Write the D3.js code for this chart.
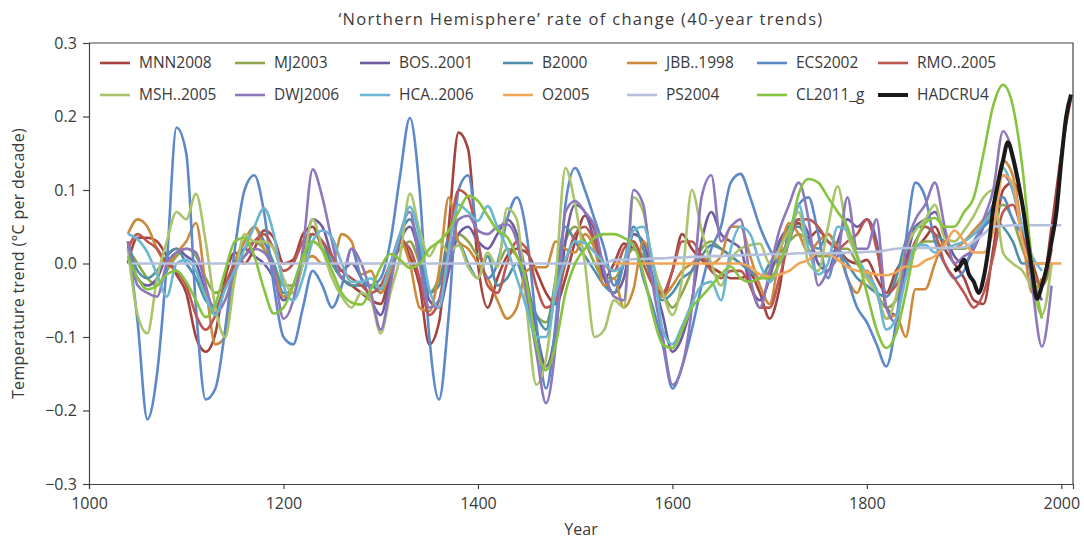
<!DOCTYPE html>
<html>
<head>
<meta charset="utf-8">
<script src="https://cdn.jsdelivr.net/npm/d3@7"></script>
<style>
  body { margin: 0; background: #fff; }
  svg text { font-family: "Open Sans", "Noto Sans", sans-serif; fill: #3a3a3a; }
</style>
</head>
<body>
<div id="chart"></div>
<script>
// legend order
const seriesNames = ['MNN2008', 'MJ2003', 'BOS..2001', 'B2000', 'JBB..1998', 'ECS2002', 'RMO..2005',
                     'MSH..2005', 'DWJ2006', 'HCA..2006', 'O2005', 'PS2004', 'CL2011_g', 'HADCRU4'];

// 40-year trends (°C per decade), 10-year steps from 1040 unless noted
const mnn2008 = [0.0, 0.035, 0.035, 0.03, 0.01, -0.015, -0.04, -0.1, -0.12, -0.095,
  -0.02, 0.015, 0.0, 0.02, 0.045, 0.035, 0.0, 0.005, 0.04, 0.05,
  0.02, 0.0, -0.02, -0.03, -0.04, -0.05, -0.055, -0.01, 0.035, 0.01,
  -0.03, -0.11, -0.08, 0.05, 0.178, 0.155, 0.0, -0.06, -0.02, 0.01,
  0.02, 0.015, -0.01, -0.04, -0.055, -0.02, 0.03, 0.065, 0.045, -0.02,
  0.0, 0.027, 0.02, 0.01, -0.02, -0.045, -0.01, 0.04, 0.02, 0.005,
  -0.005, -0.013, -0.02, -0.02, -0.015, -0.04, -0.075, -0.035, 0.045, 0.055,
  0.035, 0.045, 0.03, 0.02, 0.005, 0.0, 0.005, -0.02, -0.04, -0.01,
  0.01, 0.02, 0.035, 0.05, 0.02, 0.0, -0.02, -0.05, -0.055, 0.02,
  0.1, 0.11, 0.08, 0.005, -0.03, 0.05, 0.15, 0.225];

const mj2003 = [0.02, 0.0, -0.02, -0.03, -0.01, 0.01, 0.02, 0.01, -0.02, -0.04,
  -0.03, 0.0, 0.02, 0.03, 0.02, 0.0, -0.03, -0.03, 0.0, 0.03,
  0.02, 0.0, -0.02, -0.03, -0.03, -0.03, -0.03, 0.0, 0.02, 0.03,
  0.0, -0.04, -0.02, 0.02, 0.04, 0.03, 0.01, 0.0, 0.0, 0.02,
  0.01, -0.03, -0.07, -0.08, -0.03, 0.03, 0.05, 0.03, 0.0, -0.02,
  -0.02, 0.0, 0.02, 0.01, -0.02, -0.04, -0.06, -0.04, -0.01, 0.02,
  0.03, 0.02, 0.01, 0.0, -0.01, -0.02, -0.01, 0.01, 0.03, 0.04,
  0.03, 0.01, 0.01, 0.02, 0.02, 0.0, -0.02, -0.04, -0.06, -0.05,
  -0.01, 0.02, 0.03, 0.03, 0.02, 0.02, 0.02, 0.03, 0.05, 0.07,
  0.08, 0.06, 0.02, -0.01, -0.03, 0.0];

const bos2001 = [0.02, -0.02, -0.03, -0.02, 0.01, 0.02, 0.01, 0.0, -0.04, -0.06,
  -0.03, 0.0, 0.02, 0.01, 0.0, -0.02, -0.05, -0.03, 0.01, 0.06,
  0.05, 0.01, -0.01, 0.0, -0.02, -0.05, -0.07, -0.02, 0.03, 0.05,
  0.01, -0.05, -0.06, -0.01, 0.04, 0.05, 0.03, 0.02, 0.04, 0.06,
  0.04, -0.02, -0.09, -0.14, -0.09, 0.03, 0.08, 0.07, 0.03, -0.02,
  -0.04, -0.02, 0.04, 0.03, -0.02, -0.07, -0.12, -0.1, -0.05, 0.03,
  0.07, 0.04, 0.03, 0.02, -0.03, -0.05, -0.02, 0.03, 0.05, 0.06,
  0.04, 0.0, -0.01, 0.03, 0.06, 0.05, 0.06, 0.03, -0.06, -0.07,
  0.0, 0.05, 0.06, 0.07, 0.04, 0.01, 0.0, 0.02, 0.05, 0.08,
  0.12, 0.1, 0.04, -0.02, -0.05];

const b2000 = [0.03, -0.01, -0.02, -0.01, 0.01, 0.02, 0.0, -0.02, -0.05, -0.06,
  -0.03, 0.0, 0.03, 0.05, 0.03, 0.0, -0.04, -0.04, 0.0, 0.04,
  0.03, 0.0, -0.02, -0.03, -0.03, -0.03, -0.04, 0.0, 0.04, 0.06,
  0.02, -0.04, -0.03, 0.035, 0.03, 0.0, -0.02, 0.01, -0.03, -0.02,
  0.0, -0.04, -0.07, -0.09, -0.02, 0.05, 0.03, 0.01, -0.01, -0.03,
  -0.04, 0.0, 0.05, 0.02, -0.03, -0.05, -0.04, -0.02, -0.01, 0.01,
  0.025, 0.02, 0.01, 0.0, -0.01, -0.02, 0.0, 0.02, 0.05, 0.05,
  0.03, 0.02, 0.04, 0.02, 0.0, -0.02, -0.03, -0.04, -0.045, -0.02,
  0.03, 0.05, 0.05, 0.04, 0.03, 0.02, 0.03, 0.04, 0.05, 0.06,
  0.05, 0.03, 0.0, 0.0, 0.0, 0.0];

const jbb1998 = [0.04, 0.06, 0.05, 0.02, 0.0, 0.015, 0.03, 0.055, -0.03, -0.11,
  -0.1, 0.0, 0.03, 0.05, 0.02, -0.01, -0.045, -0.03, 0.0, 0.01,
  0.0, 0.0, 0.04, 0.03, -0.015, -0.01, -0.04, -0.01, 0.03, 0.0,
  -0.06, -0.065, -0.01, 0.09, 0.03, 0.02, 0.0, -0.02, -0.05, -0.075,
  -0.06, -0.01, -0.005, -0.005, 0.03, 0.02, 0.015, 0.04, 0.02, -0.03,
  -0.02, -0.06, -0.035, 0.03, 0.0, -0.045, -0.03, -0.01, 0.0, 0.01,
  0.0, 0.01, 0.05, 0.05, 0.01, -0.03, -0.055, 0.01, 0.055, 0.04,
  0.015, 0.03, 0.04, 0.02, -0.02, -0.04, -0.01, -0.04, -0.075, -0.07,
  -0.1, -0.035, -0.035, 0.0, 0.03, 0.02, 0.03, 0.045, 0.06, 0.08,
  0.14, 0.12, 0.04, -0.04, -0.02];

const ecs2002 = [0.03, -0.08, -0.212, -0.15, 0.0, 0.185, 0.15, -0.06, -0.185, -0.17,
  -0.09, 0.02, 0.1, 0.12, 0.07, -0.03, -0.1, -0.11, -0.06, -0.01,
  -0.03, -0.06, -0.03, 0.02, -0.02, -0.03, -0.02, 0.03, 0.12, 0.198,
  0.1, -0.1, -0.185, -0.07, 0.1, 0.12, 0.03, -0.02, 0.0, 0.06,
  0.09, 0.04, -0.08, -0.17, -0.08, 0.08, 0.13, 0.1, 0.06, 0.02,
  -0.03, 0.0, 0.03, -0.02, -0.06, -0.11, -0.17, -0.14, -0.09, -0.03,
  0.02, 0.05, 0.11, 0.122, 0.09, 0.05, 0.02, 0.0, 0.04, 0.08,
  0.09, 0.04, -0.02, 0.02, -0.02, -0.06, -0.08, -0.11, -0.14, -0.08,
  0.03, 0.11, 0.09, 0.03, 0.0, -0.02, -0.01, 0.03, 0.05, 0.08,
  0.09, 0.06, 0.04];

const rmo2005 = [0.02, 0.04, 0.03, 0.02, 0.0, -0.01, -0.03, -0.07, -0.09, -0.07,
  -0.03, 0.0, 0.01, 0.03, 0.04, 0.02, -0.01, 0.0, 0.03, 0.04,
  0.03, 0.01, -0.01, -0.02, -0.03, -0.04, -0.03, 0.0, 0.03, 0.02,
  -0.02, -0.07, -0.05, 0.03, 0.1, 0.09, 0.03, -0.03, -0.04, 0.0,
  0.03, 0.02, -0.03, -0.06, -0.05, 0.0, 0.04, 0.05, 0.03, 0.0,
  -0.01, 0.02, 0.03, 0.0, -0.03, -0.04, -0.01, 0.03, 0.03, 0.01,
  -0.01, -0.02, -0.01, -0.01, -0.03, -0.06, -0.06, -0.02, 0.03, 0.06,
  0.06, 0.05, 0.03, 0.02, 0.03, 0.04, 0.06, 0.02, -0.04, -0.03,
  0.0, 0.03, 0.05, 0.04, 0.0, -0.02, -0.04, -0.06, -0.04, 0.01,
  0.07, 0.08, 0.04, -0.01, -0.03, 0.02];

const msh2005 = [0.02, -0.07, -0.095, -0.02, 0.03, 0.07, 0.06, 0.095, 0.03, -0.06,
  -0.1, -0.02, 0.04, 0.03, 0.03, 0.02, -0.02, -0.04, 0.0, 0.06,
  0.02, -0.02, -0.045, -0.06, -0.04, -0.05, -0.095, -0.04, 0.01, 0.095,
  0.045, 0.01, 0.03, 0.015, 0.025, -0.005, -0.02, 0.015, -0.005, 0.075,
  0.06, -0.06, -0.165, -0.13, -0.02, 0.13, 0.08, 0.0, -0.1, -0.09,
  -0.05, -0.06, 0.09, 0.07, 0.0, -0.04, -0.07, -0.02, 0.1, 0.045,
  0.0, -0.03, 0.005, 0.02, 0.025, 0.027, 0.0, 0.02, 0.045, 0.07,
  0.0, -0.01, 0.05, 0.105, 0.04, 0.01, -0.02, -0.04, -0.075, -0.045,
  0.02, 0.045, 0.06, 0.08, 0.035, 0.03, 0.045, 0.065, 0.09, 0.1,
  0.015, 0.0, -0.01, -0.035, -0.07, 0.0];

const dwj2006 = [0.03, -0.03, -0.04, -0.045, 0.0, 0.015, 0.02, 0.015, -0.03, -0.068,
  -0.05, -0.01, 0.01, 0.02, 0.015, -0.01, -0.075, -0.05, 0.02, 0.128,
  0.09, 0.03, -0.02, 0.02, 0.0, -0.04, -0.09, -0.03, 0.04, 0.07,
  0.0, -0.06, -0.05, 0.0, 0.06, 0.065, 0.045, 0.04, 0.05, 0.053,
  0.03, -0.04, -0.12, -0.19, -0.11, 0.07, 0.085, 0.07, 0.05, -0.01,
  -0.045, -0.05, 0.1, 0.08, -0.03, -0.1, -0.165, -0.14, -0.06, 0.09,
  0.12, 0.03, 0.05, 0.06, -0.02, -0.06, -0.01, 0.045, 0.08, 0.11,
  0.06, -0.03, -0.01, 0.01, 0.09, 0.02, 0.02, 0.06, -0.06, -0.08,
  0.02, 0.06, 0.08, 0.11, 0.05, 0.0, 0.01, 0.02, 0.06, 0.1,
  0.18, 0.15, 0.08, -0.03, -0.113, -0.03];

const hca2006 = [0.04, 0.033, 0.015, -0.015, -0.045, 0.0, 0.005, -0.01, -0.045, -0.07,
  -0.035, -0.01, 0.02, 0.05, 0.075, 0.04, -0.03, -0.05, -0.02, 0.03,
  0.045, 0.035, 0.0, -0.025, -0.025, -0.02, -0.035, 0.0, 0.04, 0.077,
  0.035, -0.035, -0.06, 0.02, 0.08, 0.07, 0.058, 0.078, 0.05, 0.02,
  -0.02, -0.06, -0.1, -0.1, -0.04, 0.005, 0.03, 0.028, 0.015, 0.0,
  -0.01, 0.0, 0.045, 0.05, 0.0, -0.09, -0.11, -0.085, -0.055, -0.03,
  -0.025, -0.05, 0.02, 0.05, 0.04, 0.0, -0.025, 0.0, 0.03, 0.08,
  0.02, -0.015, 0.0, 0.05, 0.045, 0.01, -0.015, -0.035, -0.09, -0.075,
  -0.02, 0.025, 0.025, 0.015, 0.02, 0.025, 0.03, 0.04, 0.055, 0.075,
  0.13, 0.1, 0.05, 0.01, -0.01];

// O2005 begins in 1540
const o2005 = [0.0, 0.0, 0.0, 0.0, 0.0, 0.0, 0.0, 0.0, 0.0, 0.0,
  0.0, 0.0, 0.0, 0.0, -0.005, -0.015, -0.018, -0.015, -0.01, 0.0,
  0.005, 0.015, 0.013, 0.005, -0.005, -0.01, -0.012, -0.015, -0.016, -0.012,
  -0.004, -0.004, 0.004, 0.01, 0.025, 0.045, 0.03, 0.015, 0.015, 0.045,
  0.12, 0.11, 0.03, 0.0, 0.0, 0.0, 0.0];

const ps2004 = [0.0, 0.0, 0.0, 0.0, 0.0, 0.0, 0.0, 0.0, 0.0, 0.0,
  0.0, 0.0, 0.0, 0.0, 0.0, 0.0, 0.0, 0.0, 0.0, 0.0,
  0.0, 0.0, 0.0, 0.0, 0.0, 0.0, 0.0, 0.0, 0.0, 0.0,
  0.0, 0.0, 0.0, 0.0, 0.0, 0.0, 0.0, 0.0, 0.0, 0.0,
  0.0, 0.0, 0.0, 0.0, 0.0, 0.0, 0.0, 0.0, 0.0, 0.0,
  0.005, 0.005, 0.006, 0.006, 0.007, 0.007, 0.008, 0.008, 0.009, 0.009,
  0.01, 0.01, 0.011, 0.011, 0.012, 0.012, 0.013, 0.013, 0.013, 0.014,
  0.014, 0.014, 0.014, 0.014, 0.015, 0.015, 0.016, 0.016, 0.018, 0.02,
  0.021, 0.021, 0.021, 0.021, 0.021, 0.021, 0.022, 0.03, 0.04, 0.05,
  0.051, 0.052, 0.052, 0.052, 0.052, 0.052, 0.052];

const cl2011g = [0.01, -0.02, -0.035, -0.03, -0.015, -0.01, -0.025, -0.05, -0.073, -0.055,
  -0.01, 0.03, 0.035, 0.01, -0.035, -0.068, -0.06, -0.03, 0.01, 0.03,
  0.018, -0.01, -0.04, -0.053, -0.056, -0.035, -0.005, 0.013, 0.005, -0.006,
  0.0, 0.02, 0.03, 0.045, 0.07, 0.092, 0.085, 0.065, 0.045, 0.036,
  0.01, -0.025, -0.11, -0.145, -0.11, -0.04, 0.0, 0.02, 0.035, 0.04,
  0.04, 0.035, 0.025, -0.013, -0.07, -0.11, -0.115, -0.09, -0.06, -0.045,
  -0.03, -0.015, -0.004, -0.02, -0.025, -0.02, -0.02, 0.0, 0.035, 0.095,
  0.115, 0.11, 0.09, 0.07, 0.05, 0.01, -0.04, -0.09, -0.115, -0.095,
  -0.04, 0.025, 0.055, 0.062, 0.05, 0.05, 0.07, 0.09, 0.15, 0.215,
  0.243, 0.215, 0.13, 0.0, -0.075];

// instrumental record, 5-year steps
const hadYears = [1890, 1895, 1900, 1905, 1910, 1915, 1920, 1925, 1930, 1935, 1940, 1945,
  1950, 1955, 1960, 1965, 1970, 1975, 1980, 1985, 1990, 1995, 2000, 2005, 2010];
const hadcru4 = [-0.01, -0.005, 0.005, -0.015, -0.025, -0.04, -0.02, 0.02, 0.075, 0.11, 0.14, 0.165,
  0.145, 0.115, 0.08, 0.035, -0.01, -0.048, -0.03, -0.005, 0.03, 0.07, 0.14, 0.2, 0.23];

const seriesStart = [1040, 1040, 1040, 1040, 1040, 1040, 1040, 1040, 1040, 1040, 1540, 1040, 1040];
const seriesValues = [mnn2008, mj2003, bos2001, b2000, jbb1998, ecs2002, rmo2005,
                      msh2005, dwj2006, hca2006, o2005, ps2004, cl2011g];

const xTicks = [1000, 1200, 1400, 1600, 1800, 2000];
const yTicks = [-0.3, -0.2, -0.1, 0.0, 0.1, 0.2, 0.3];

const colors = ['#a4433e', '#8ea54b', '#6f5b9f', '#4f8fa7', '#cc8a3c', '#5d89c9', '#bc5651',
                '#aac46b', '#8e78bb', '#6bb7d2', '#f0a557', '#b5c0dd', '#86c440', '#1a1a1a'];

const width = 1084, height = 539;
const margin = { top: 43, right: 11, bottom: 55, left: 89 };

const svg = d3.select('#chart').append('svg')
    .attr('width', width)
    .attr('height', height);

const x = d3.scaleLinear().domain([1000, 2012]).range([margin.left, width - margin.right]);
const y = d3.scaleLinear().domain([-0.3, 0.3]).range([height - margin.bottom, margin.top]);

// title
svg.append('text')
    .attr('x', 581).attr('y', 25)
    .attr('text-anchor', 'middle')
    .style('font-size', '16.5px')
    .style('letter-spacing', '1.3px')
    .text('\u2018Northern Hemisphere\u2019 rate of change (40-year trends)');

// frame: top + right borders
svg.append('path')
    .attr('d', `M${x(1000)},${y(0.3)}H${x(2012)}V${y(-0.3)}`)
    .attr('fill', 'none').attr('stroke', '#444').attr('stroke-width', 1.2);

const xAxis = svg.append('g')
    .attr('transform', `translate(0,${y(-0.3)})`)
    .call(d3.axisBottom(x).tickValues(xTicks).tickFormat(d3.format('d')).tickSize(5));
const yAxis = svg.append('g')
    .attr('transform', `translate(${x(1000)},0)`)
    .call(d3.axisLeft(y).tickValues(yTicks).tickFormat(d3.format('.1f')).tickSize(6));

[xAxis, yAxis].forEach(g => {
    g.select('.domain').attr('stroke', '#444').attr('stroke-width', 1.2);
    g.selectAll('.tick line').attr('stroke', '#444').attr('stroke-width', 1.2);
    g.selectAll('.tick text').style('font-size', '16px').attr('fill', '#3a3a3a')
        .style('font-family', '"Open Sans", "Noto Sans", sans-serif');
});
xAxis.selectAll('.tick text').attr('dy', '1.05em');
yAxis.selectAll('.tick text').attr('dx', '-0.2em');

svg.append('text')
    .attr('x', 581).attr('y', 535)
    .attr('text-anchor', 'middle')
    .style('font-size', '16px')
    .text('Year');

svg.append('text')
    .attr('transform', `translate(24,${y(0)}) rotate(-90)`)
    .attr('text-anchor', 'middle')
    .style('font-size', '16px')
    .style('letter-spacing', '0.3px')
    .text('Temperature trend (\u00b0C per decade)');

// series
const line = d3.line()
    .x(d => x(d[0]))
    .y(d => y(d[1]))
    .curve(d3.curveMonotoneX);

const plot = svg.append('g');
seriesValues.forEach((vals, i) => {
    const pts = vals.map((v, j) => [seriesStart[i] + j * 10, v]);
    plot.append('path')
        .datum(pts)
        .attr('fill', 'none')
        .attr('stroke', colors[i])
        .attr('stroke-width', 2.6)
        .attr('stroke-linejoin', 'round')
        .attr('d', line);
});

plot.append('path')
    .datum(hadYears.map((yr, j) => [yr, hadcru4[j]]))
    .attr('fill', 'none')
    .attr('stroke', colors[13])
    .attr('stroke-width', 4)
    .attr('stroke-linejoin', 'round')
    .attr('d', line);

// legend: 2 rows x 7
const legendCols = [100, 235, 360, 503, 627, 757, 878];
const legendRows = [63, 95];
const legend = svg.append('g');
seriesNames.forEach((name, i) => {
    const cx = legendCols[i % 7], cy = legendRows[Math.floor(i / 7)];
    legend.append('line')
        .attr('x1', cx).attr('x2', cx + 30)
        .attr('y1', cy).attr('y2', cy)
        .attr('stroke', colors[i])
        .attr('stroke-width', i === 13 ? 4 : 2.6);
    legend.append('text')
        .attr('x', cx + 39).attr('y', cy)
        .attr('dy', '0.35em')
        .style('font-size', '15.5px')
        .text(name);
});
</script>
</body>
</html>
